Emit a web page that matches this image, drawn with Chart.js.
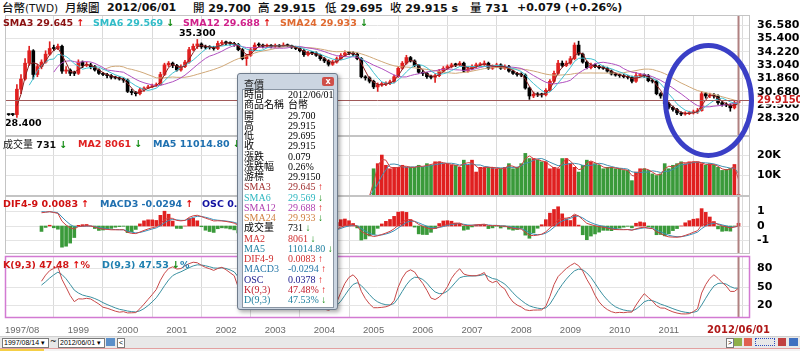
<!DOCTYPE html>
<html>
<head>
<meta charset="utf-8">
<script src="https://cdn.jsdelivr.net/npm/chart.js@4.4.0/dist/chart.umd.min.js"></script>
<style>
body{margin:0;width:800px;height:351px;overflow:hidden;background:#fff;position:relative;font-family:"DejaVu Sans","Noto Sans CJK TC",sans-serif;}
canvas{position:absolute;left:0;}
.hd{position:absolute;top:0;line-height:15px;font-size:11px;font-weight:bold;white-space:nowrap;color:#111;}
.cj{font-family:"Noto Sans CJK TC";font-weight:500;font-size:11.5px;}
.lg{position:absolute;line-height:11px;font-size:9.5px;font-weight:bold;white-space:nowrap;}
.up{color:#e01010;}
.dn{color:#108a10;}
#ring{position:absolute;left:663px;top:43px;width:91px;height:115px;box-sizing:border-box;border:5px solid #3a3fc6;border-radius:50%;}
#pop{position:absolute;left:237px;top:73px;width:101px;height:237px;box-sizing:border-box;background:#cbd5e1;border:1px solid #6f7c8c;border-radius:3px;box-shadow:2px 2px 4px rgba(0,0,0,.35);}
#ptitle{position:absolute;left:6px;top:2px;font:10px "Noto Sans CJK TC";color:#222;}
#pclose{position:absolute;left:84px;top:3px;width:12px;height:9px;background:#cf4f48;border-radius:2px;color:#fff;font:bold 8px "DejaVu Sans";text-align:center;line-height:9px;}
#pbody{position:absolute;left:4px;top:15px;width:90px;height:217px;background:#fff;border:1px solid #8a96a4;font-family:"Liberation Serif","Noto Sans CJK TC",serif;font-size:10px;}
#pbody div{position:relative;height:10.25px;line-height:10.25px;white-space:nowrap;}
#pbody span{position:absolute;}
#pbody .v{left:45px;}
#pbody .l{left:1px;}
#bar{position:absolute;left:0;top:336px;width:800px;height:11px;background:#e8e8e8;border-top:1px solid #d0d0d0;}
.sel{position:absolute;top:1px;height:8px;background:#fff;border:1px solid #7a7a7a;font:7px "Liberation Sans";line-height:8px;padding-left:1px;}
#tabs{position:absolute;left:0;top:348px;width:800px;height:3px;background:#f3f3f3;border-top:1px solid #e2a0a0;}
</style>
</head>
<body>
<div class="hd" style="left:2px;font-weight:normal;font-size:10.5px"><span class="cj">台幣</span>(TWD)</div>
<div class="hd" style="left:65px"><span class="cj">月線圖</span></div>
<div class="hd" style="left:107px">2012/06/01</div>
<div class="hd" style="left:193px"><span class="cj">開</span> 29.700</div>
<div class="hd" style="left:258px"><span class="cj">高</span> 29.915</div>
<div class="hd" style="left:325px"><span class="cj">低</span> 29.695</div>
<div class="hd" style="left:390px"><span class="cj">收</span> 29.915 s</div>
<div class="hd" style="left:470px"><span class="cj">量</span> 731</div>
<div class="hd" style="left:517px">+0.079 (+0.26%)</div>

<canvas id="cPrice" width="800" height="121" style="top:15px"></canvas>
<canvas id="cVol" width="800" height="60" style="top:136px"></canvas>
<canvas id="cMacd" width="800" height="58" style="top:196px"></canvas>
<canvas id="cKd" width="800" height="83" style="top:254px"></canvas>

<div class="lg" style="left:3px;top:17px;color:#8b1010">SMA3 29.645 <span class="up">↑</span></div>
<div class="lg" style="left:93px;top:17px;color:#30bcc8">SMA6 29.569 <span class="dn">↓</span></div>
<div class="lg" style="left:183px;top:17px;color:#d0208a">SMA12 29.688 <span class="up">↑</span></div>
<div class="lg" style="left:280px;top:17px;color:#e06a30">SMA24 29.933 <span class="dn">↓</span></div>

<div class="lg" style="left:3px;top:138px;color:#111"><span class="cj" style="font-size:10px;font-weight:normal">成交量</span> 731 <span class="dn">↓</span></div>
<div class="lg" style="left:78px;top:138px;color:#e02020">MA2 8061 <span class="dn">↓</span></div>
<div class="lg" style="left:153px;top:138px;color:#1e70b0">MA5 11014.80 <span class="dn">↓</span></div>

<div class="lg" style="left:3px;top:198px;color:#d01010">DIF4-9 0.0083 <span class="up">↑</span></div>
<div class="lg" style="left:100px;top:198px;color:#2070b0">MACD3 -0.0294 <span class="up">↑</span></div>
<div class="lg" style="left:202px;top:198px;color:#1010a0">OSC 0.0378 <span class="up">↑</span></div>

<div class="lg" style="left:3px;top:259px;color:#d01818">K(9,3) 47.48 <span class="up">↑</span>%</div>
<div class="lg" style="left:102px;top:259px;color:#2080b0">D(9,3) 47.53 <span class="dn">↓</span>%</div>

<div id="ring"></div>

<div id="pop">
  <div id="ptitle">查價</div><div id="pclose">x</div>
  <div id="pbody">
    <div><span class="l">時間</span><span class="v">2012/06/01</span></div>
    <div><span class="l">商品名稱</span><span class="v">台幣</span></div>
    <div><span class="l">開</span><span class="v">29.700</span></div>
    <div><span class="l">高</span><span class="v">29.915</span></div>
    <div><span class="l">低</span><span class="v">29.695</span></div>
    <div><span class="l">收</span><span class="v">29.915</span></div>
    <div><span class="l">漲跌</span><span class="v">0.079</span></div>
    <div><span class="l">漲跌幅</span><span class="v">0.26%</span></div>
    <div><span class="l">游標</span><span class="v">29.9150</span></div>
    <div style="color:#a03030"><span class="l">SMA3</span><span class="v">29.645 <b class="up">↑</b></span></div>
    <div style="color:#30b8c0"><span class="l">SMA6</span><span class="v">29.569 <b class="dn">↓</b></span></div>
    <div style="color:#b040b0"><span class="l">SMA12</span><span class="v">29.688 <b class="up">↑</b></span></div>
    <div style="color:#d08040"><span class="l">SMA24</span><span class="v">29.933 <b class="dn">↓</b></span></div>
    <div><span class="l">成交量</span><span class="v">731 <b class="dn">↓</b></span></div>
    <div style="color:#d03030"><span class="l">MA2</span><span class="v">8061 <b class="dn">↓</b></span></div>
    <div style="color:#2080a0"><span class="l">MA5</span><span class="v">11014.80 <b class="dn">↓</b></span></div>
    <div style="color:#d03030"><span class="l">DIF4-9</span><span class="v">0.0083 <b class="up">↑</b></span></div>
    <div style="color:#2878a8"><span class="l">MACD3</span><span class="v">-0.0294 <b class="up">↑</b></span></div>
    <div style="color:#202090"><span class="l">OSC</span><span class="v">0.0378 <b class="up">↑</b></span></div>
    <div style="color:#c02030"><span class="l">K(9,3)</span><span class="v">47.48% <b class="up">↑</b></span></div>
    <div style="color:#2080a0"><span class="l">D(9,3)</span><span class="v">47.53% <b class="dn">↓</b></span></div>
  </div>
</div>

<div id="bar">
  <div class="sel" style="left:2px;width:44px">1997/08/14 ▾</div>
  <div style="position:absolute;left:50px;top:0;font:8px 'DejaVu Sans'">~</div>
  <div class="sel" style="left:58px;width:44px">2012/06/01 ▾</div>
  <div style="position:absolute;left:106px;top:1px;width:9px;height:8px;background:#5b8fc8"></div>
  <div class="sel" style="left:117px;width:5px">&lt;</div>
  <div class="sel" style="left:726px;width:5px">&gt;</div>
  <div style="position:absolute;left:734px;top:1px;width:8px;height:8px;background:#8fb04a"></div>
  <div style="position:absolute;left:744px;top:1px;width:8px;height:8px;background:#e06050"></div>
  <div style="position:absolute;left:755px;top:1px;width:20px;height:8px;border:1px dotted #3050c0;box-sizing:border-box"></div>
  <div style="position:absolute;left:778px;top:1px;width:8px;height:8px;background:#c04040"></div>
  <div style="position:absolute;left:789px;top:1px;width:9px;height:8px;background:#4070c0"></div>
</div>
<div id="tabs"><div style="position:absolute;left:0;top:0;width:44px;height:3px;background:#f5cf45"></div></div>

<script>
// monthly USD/TWD, 1997/08 .. 2012/06
const closes = [
  28.65, 28.65, 30.90, 31.80, 33.20,
  34.30, 32.20, 32.90, 33.30, 34.00, 34.50, 34.50, 34.70, 32.50, 32.60, 32.30, 32.30,
  33.30, 33.00, 33.05, 32.90, 32.60, 32.30, 32.20, 32.10, 31.95, 31.90, 31.80, 31.70,
  30.70, 30.60, 30.50, 30.85, 31.00, 31.10, 31.20, 31.30, 32.20, 33.05, 33.20, 33.00,
  32.60, 32.90, 33.30, 34.40, 34.70, 34.90, 34.65, 34.60, 34.60, 34.50, 34.95, 35.00,
  35.00, 34.95, 34.85, 34.40, 33.60, 33.90, 34.40, 34.80, 34.80, 34.70, 34.75, 34.70,
  34.75, 34.70, 34.80, 34.75, 34.60, 34.50, 34.30, 33.95, 34.10, 34.10, 33.90, 33.60,
  33.40, 33.10, 33.30, 33.60, 33.90, 34.10, 34.10, 34.00, 33.60, 32.00, 31.90, 31.60,
  31.10, 31.30, 31.35, 31.40, 31.55, 32.00, 32.75, 33.20, 33.70, 33.40, 33.00, 32.40,
  32.30, 32.00, 31.95, 32.10, 32.50, 32.75, 32.90, 33.05, 33.05, 33.20, 32.50, 32.70,
  32.90, 33.05, 33.10, 33.20, 32.75, 32.90, 33.05, 32.75, 32.90, 32.50, 32.30, 32.20,
  32.15, 31.00, 30.30, 30.45, 30.40, 30.40, 30.80, 31.60, 32.30, 33.20, 33.00, 33.20,
  33.60, 34.80, 34.00, 33.30, 32.80, 33.05, 32.90, 32.80, 32.75, 32.50, 32.25, 32.15,
  32.10, 32.00, 31.95, 31.60, 32.10, 32.15, 32.10, 31.65, 31.60, 30.50, 30.30, 29.60,
  29.30, 29.10, 28.80, 28.70, 28.75, 28.80, 28.90, 29.00, 30.50, 30.30, 30.35, 30.30,
  29.70, 29.55, 29.50, 29.25, 29.70, 29.915
];
const highs = [
  28.72, 28.75, 31.30, 32.20, 33.60,
  34.70, 34.40, 33.10, 33.50, 34.30, 35.10, 34.80, 34.90, 34.80, 32.90, 32.70, 32.50,
  33.50, 33.40, 33.30, 33.20, 33.00, 32.70, 32.40, 32.30, 32.20, 32.05, 32.00, 31.90,
  31.80, 30.90, 30.70, 31.00, 31.10, 31.25, 31.35, 31.45, 32.40, 33.20, 33.35, 33.30,
  33.10, 33.05, 33.45, 34.60, 34.90, 35.30, 35.00, 34.80, 34.75, 34.70, 35.15, 35.20,
  35.15, 35.10, 35.05, 34.95, 34.50, 34.00, 34.55, 35.00, 35.00, 34.90, 34.90, 34.85,
  34.90, 34.85, 35.00, 34.90, 34.80, 34.70, 34.60, 34.40, 34.25, 34.25, 34.20, 34.00,
  33.70, 33.50, 33.45, 33.75, 34.05, 34.30, 34.25, 34.20, 34.10, 33.70, 32.10, 32.00,
  31.70, 31.45, 31.50, 31.55, 31.70, 32.15, 32.90, 33.35, 33.90, 33.80, 33.50, 33.10,
  32.60, 32.40, 32.15, 32.25, 32.65, 32.90, 33.05, 33.20, 33.20, 33.35, 33.30, 32.85,
  33.05, 33.20, 33.25, 33.40, 33.30, 33.05, 33.20, 33.15, 33.05, 33.00, 32.60, 32.40,
  32.35, 32.25, 31.10, 30.65, 30.60, 30.55, 30.95, 31.75, 32.50, 33.45, 33.40, 33.40,
  33.80, 35.00, 35.15, 34.10, 33.40, 33.20, 33.15, 33.00, 32.95, 32.85, 32.60, 32.35,
  32.25, 32.20, 32.10, 32.05, 32.40, 32.30, 32.25, 32.20, 31.80, 31.70, 30.60, 30.40,
  29.75, 29.40, 29.20, 28.90, 28.90, 28.95, 29.05, 29.20, 30.70, 30.60, 30.55, 30.50,
  30.40, 29.85, 29.70, 29.60, 29.85, 29.915
];
const lows = [
  28.58, 28.55, 28.40, 30.50, 31.70,
  33.00, 31.80, 32.00, 32.70, 33.20, 33.90, 34.30, 34.40, 32.30, 32.30, 32.10, 32.10,
  32.20, 32.80, 32.90, 32.70, 32.50, 32.20, 32.10, 31.90, 31.80, 31.80, 31.70, 31.50,
  30.60, 30.40, 30.30, 30.40, 30.70, 30.95, 31.05, 31.15, 31.25, 32.10, 32.90, 32.80,
  32.50, 32.50, 32.80, 33.20, 34.30, 34.50, 34.50, 34.45, 34.45, 34.35, 34.40, 34.80,
  34.85, 34.80, 34.70, 34.30, 33.50, 33.00, 33.80, 34.30, 34.65, 34.55, 34.60, 34.55,
  34.60, 34.60, 34.65, 34.65, 34.50, 34.40, 34.20, 33.80, 33.85, 33.95, 33.80, 33.45,
  33.25, 32.95, 33.00, 33.20, 33.50, 33.80, 33.95, 33.85, 33.50, 31.90, 31.70, 31.45,
  30.95, 30.70, 31.15, 31.20, 31.30, 31.45, 31.95, 32.65, 33.10, 33.30, 32.90, 32.30,
  32.10, 31.85, 31.80, 31.50, 32.00, 32.40, 32.65, 32.80, 32.90, 32.95, 32.40, 32.40,
  32.60, 32.80, 32.95, 33.00, 32.65, 32.65, 32.80, 32.65, 32.65, 32.40, 32.20, 32.05,
  32.00, 30.90, 30.00, 30.15, 30.25, 30.20, 30.30, 30.70, 31.50, 32.20, 32.85, 32.90,
  33.10, 33.50, 33.90, 33.20, 32.70, 32.70, 32.80, 32.70, 32.65, 32.40, 32.15, 32.05,
  31.95, 31.90, 31.80, 31.45, 31.50, 32.00, 31.95, 31.55, 31.45, 30.40, 30.10, 29.10,
  29.15, 28.95, 28.65, 28.55, 28.60, 28.65, 28.70, 28.75, 28.95, 30.10, 30.15, 30.10,
  29.55, 29.40, 29.35, 28.95, 29.15, 29.695
];
// volume is recorded from 2005/01 on
const volumeFrom = '2005/01';
const volumes = [
  13300, 15800, 20000, 15000, 13300, 14000, 14000, 15000, 14000, 14000, 14000, 15000,
  14000, 15800, 15000, 16700, 16700, 15800, 15800, 15000, 15000, 14000, 17500, 15000,
  17500, 11700, 14000, 14000, 14000, 14000, 13300, 13300, 14000, 15800, 13300, 14000,
  15800, 20800, 18300, 18300, 17500, 16700, 16700, 13300, 14000, 13300, 18300, 18300,
  15800, 14000, 11700, 15000, 17500, 16700, 15800, 15000, 13300, 14000, 14000, 13300,
  13300, 12500, 12500, 7500, 11700, 13300, 13300, 12500, 10800, 10000, 10800, 15800,
  13300, 15000, 15800, 16700, 15800, 16700, 16700, 16700, 15800, 15000, 15800, 15000,
  14000, 12500, 13000, 13452, 15391, 731
];
const cursorPrice = 29.915;
const priceTicks = [28.32, 29.50, 30.68, 31.86, 33.04, 34.22, 35.40, 36.58];
const volumeTicks = [10000, 20000];
const macdTicks = [-1, 0, 1];
const kdTicks = [20, 50, 80];
const gridYears = ['1999','2000','2001','2002','2003','2004','2005','2006','2007','2008','2009','2010','2011','2012'];
const xLabels = ['1997/08','1999','2000','2001','2002','2003','2004','2005','2006','2007','2008','2009','2010','2011','2012/06/01'];

const monthIndex = s => { const p = s.split('/'); return (+p[0] - 1997) * 12 + (p[1] ? +p[1] : 1) - 8; };
const n = closes.length;
const last = n - 1;
const opens = closes.map((c, i) => i ? closes[i - 1] : c);
const isUp = closes.map((c, i) => c > opens[i]);
const vol = new Array(n).fill(0);
volumes.forEach((v, k) => { vol[monthIndex(volumeFrom) + k] = v; });

const sma = (arr, p) => arr.map((_, i) => i < p - 1 ? null : arr.slice(i - p + 1, i + 1).reduce((a, b) => a + b, 0) / p);
const ema = (arr, p) => { const k = 2 / (p + 1); let e = null; return arr.map(v => { if (v == null) return null; e = e == null ? v : e + k * (v - e); return e; }); };
const xy = arr => arr.map((y, x) => ({ x, y }));

const e4 = ema(closes, 4), e9 = ema(closes, 9);
const difAll = closes.map((_, i) => e4[i] - e9[i]);
const macdAll = ema(difAll, 3);
const dif = difAll.map((v, i) => i < 8 ? null : v);
const macd = macdAll.map((v, i) => i < 8 ? null : v);
const osc = difAll.map((v, i) => v - macdAll[i]);

const kLine = [], dLine = [];
let kv = 50, dv = 50;
for (let i = 0; i < n; i++) {
  if (i < 8) { kLine.push(null); dLine.push(null); continue; }
  const hh = Math.max(...highs.slice(i - 8, i + 1)), ll = Math.min(...lows.slice(i - 8, i + 1));
  const rsv = hh > ll ? (closes[i] - ll) / (hh - ll) * 100 : 50;
  kv = kv * 2 / 3 + rsv / 3; dv = dv * 2 / 3 + kv / 3;
  kLine.push(kv); dLine.push(dv);
}

const RED = '#e02020', GREEN = '#3a9a3a';
const line = (data, color, extra) => Object.assign({ type: 'line', data, borderColor: color, borderWidth: 1, pointRadius: 0, tension: 0, order: 0 }, extra || {});

function xScale() {
  return { type: 'linear', min: -0.9, max: 180.8, offset: false,
    afterBuildTicks: s => { s.ticks = gridYears.map(y => ({ value: monthIndex(y) })); },
    ticks: { display: false }, grid: { color: '#dadada', drawTicks: false }, border: { display: false } };
}
function yScale(min, max, ticks, fmt) {
  return { position: 'right', min, max,
    afterBuildTicks: s => { s.ticks = ticks.map(v => ({ value: v })); },
    afterFit: s => { s.width = 50; s.paddingTop = 0; s.paddingBottom = 0; },
    ticks: { padding: 7, autoSkip: false, color: '#000', font: { family: 'DejaVu Sans', size: 11, weight: 'bold' }, callback: fmt },
    grid: { color: '#e4e4e4', drawTicks: false }, border: { display: false } };
}
function frame(color, width, extra) {
  return { id: 'frame', afterDraw(chart) {
    const { ctx, chartArea: a, scales } = chart;
    const cx = scales.x.getPixelForValue(last);
    ctx.save();
    if (extra) extra(chart, ctx, a);
    ctx.strokeStyle = '#b08080'; ctx.lineWidth = 2;
    ctx.beginPath(); ctx.moveTo(cx, a.top); ctx.lineTo(cx, a.bottom); ctx.stroke();
    ctx.strokeStyle = color; ctx.lineWidth = width;
    ctx.strokeRect(a.left + 0.5, a.top + 0.5, a.width - 1, a.height - 1);
    ctx.restore();
  } };
}
function makeChart(id, datasets, scales, plugin, padding) {
  return new Chart(document.getElementById(id), {
    type: 'bar',
    data: { datasets },
    options: { responsive: false, animation: false, events: [], devicePixelRatio: 1,
      layout: { padding: padding || { left: 5, right: 0, top: 0, bottom: 0 } },
      plugins: { legend: { display: false }, tooltip: { enabled: false } },
      scales },
    plugins: [plugin]
  });
}

// price panel
const candleColor = closes.map((c, i) => isUp[i] ? RED : '#000');
makeChart('cPrice', [
  line(xy(sma(closes, 3)), '#8b2020'),
  line(xy(sma(closes, 6)), '#40c0d0'),
  line(xy(sma(closes, 12)), '#b050c0'),
  line(xy(sma(closes, 24)), '#d0a878'),
  { type: 'bar', data: closes.map((c, i) => ({ x: i, y: [opens[i], c] })), backgroundColor: candleColor,
    barThickness: 3, minBarLength: 1, grouped: false, order: 5 },
  { type: 'bar', data: closes.map((c, i) => ({ x: i, y: [lows[i], highs[i]] })), backgroundColor: candleColor,
    barThickness: 1, grouped: false, order: 6 }
], { x: xScale(), y: yScale(26.757, 37.465, priceTicks, v => v.toFixed(3)) },
frame('#c4c4c4', 1, (chart, ctx, a) => {
  const ys = chart.scales.y, xs = chart.scales.x;
  const cy = Math.round(ys.getPixelForValue(cursorPrice)) + 0.5;
  ctx.strokeStyle = '#a05858'; ctx.lineWidth = 1;
  ctx.beginPath(); ctx.moveTo(a.left, cy); ctx.lineTo(a.right, cy); ctx.stroke();
  ctx.font = 'bold 9.5px "DejaVu Sans"'; ctx.fillStyle = '#000'; ctx.textAlign = 'center';
  const hi = highs.indexOf(Math.max(...highs)), lo = lows.indexOf(Math.min(...lows));
  const ht = highs[hi].toFixed(3), lt = lows[lo].toFixed(3);
  ctx.textBaseline = 'bottom';
  ctx.fillText(ht, Math.max(xs.getPixelForValue(hi), a.left + ctx.measureText(ht).width / 2), ys.getPixelForValue(highs[hi]) - 1);
  ctx.textBaseline = 'top';
  ctx.fillText(lt, Math.max(xs.getPixelForValue(lo), a.left + ctx.measureText(lt).width / 2), ys.getPixelForValue(lows[lo]) + 1);
  ctx.fillStyle = '#fff'; ctx.fillRect(a.right + 4, cy - 5, 46, 9);
  ctx.font = 'bold 10px "DejaVu Sans"'; ctx.fillStyle = '#c81e1e'; ctx.textAlign = 'left'; ctx.textBaseline = 'middle';
  ctx.fillText(cursorPrice.toFixed(4), a.right + 7, cy);
}));

// volume panel
const volIdx = vol.map((v, i) => i).filter(i => i >= monthIndex(volumeFrom));
makeChart('cVol', [
  line(xy(sma(vol, 2)), '#d04040'),
  line(xy(sma(vol, 5)), '#4090b0'),
  { type: 'bar', data: volIdx.map(i => ({ x: i, y: vol[i] })), backgroundColor: volIdx.map(i => isUp[i] ? RED : GREEN),
    barThickness: 3, grouped: false, order: 5 }
], { x: xScale(), y: yScale(0, 29300, volumeTicks, v => (v / 1000) + 'K') }, frame('#c4c4c4', 1));

// MACD panel, OSC bars on their own magnified scale
const oscF = 5;
makeChart('cMacd', [
  line(xy(dif), '#d04040'),
  line(xy(macd), '#3a90b8'),
  { type: 'bar', data: osc.map((v, i) => ({ x: i, y: v })).filter(p => p.x >= 8), backgroundColor: osc.filter((v, i) => i >= 8).map(v => v >= 0 ? RED : GREEN),
    barThickness: 3, grouped: false, order: 5, yAxisID: 'yo' }
], { x: xScale(), y: yScale(-1.93, 2.07, macdTicks, v => String(v)),
  yo: { display: false, min: -1.93 / oscF, max: 2.07 / oscF } }, frame('#c4c4c4', 1));

// KD panel with the time axis labels below it
makeChart('cKd', [
  line(xy(kLine), '#c84848'),
  line(xy(dLine), '#3a90a0')
], { x: xScale(), y: yScale(0, 100, kdTicks, v => String(v)) },
frame('#d27ad2', 1.5, (chart, ctx, a) => {
  const xs = chart.scales.x;
  ctx.textBaseline = 'middle';
  xLabels.forEach((lab, k) => {
    const isCur = k === xLabels.length - 1;
    ctx.font = isCur ? 'bold 10px "DejaVu Sans"' : '9.5px "Liberation Sans"';
    ctx.fillStyle = isCur ? '#b01818' : '#6a6a6a';
    ctx.textAlign = 'center';
    const w = ctx.measureText(lab).width;
    const x = Math.max(xs.getPixelForValue(monthIndex(lab)), a.left + w / 2);
    ctx.fillText(lab, x, a.bottom + 12);
  });
}), { left: 5, right: 0, top: 2, bottom: 19 });
</script>
</body>
</html>
